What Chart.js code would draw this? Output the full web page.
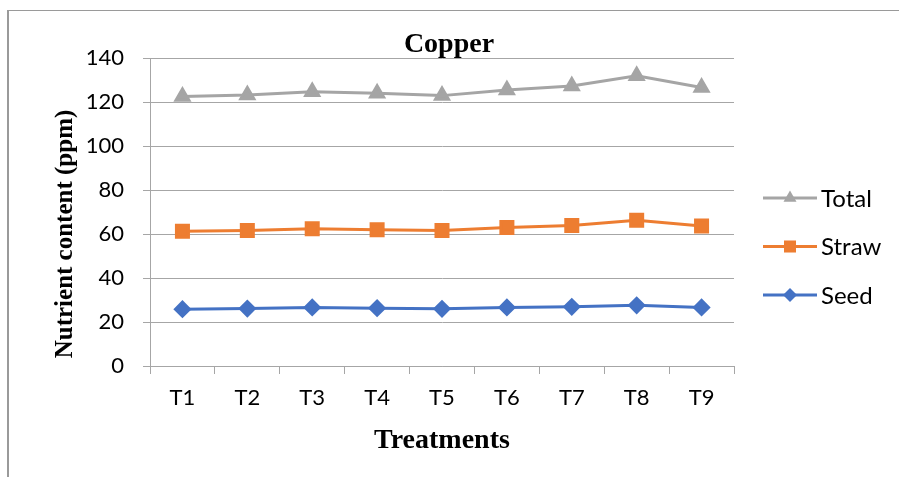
<!DOCTYPE html>
<html>
<head>
<meta charset="utf-8">
<script src="https://cdn.jsdelivr.net/npm/chart.js"></script>
<style>
  html, body { margin: 0; padding: 0; background: #fff; }
  #wrap { width: 899px; height: 477px; }
</style>
</head>
<body>
<div id="wrap"><canvas id="graficoCobre" width="899" height="477"></canvas></div>
<script>
// dados
const tratamentos = ['T1', 'T2', 'T3', 'T4', 'T5', 'T6', 'T7', 'T8', 'T9'];
const total = [122.5, 123.2, 124.7, 124.0, 122.9, 125.5, 127.3, 131.9, 126.6];
const palha = [61.3, 61.6, 62.4, 61.9, 61.6, 63.0, 63.9, 66.2, 63.6];
const semente = [25.8, 26.1, 26.6, 26.3, 26.0, 26.6, 26.9, 27.6, 26.6];
const ticksY = [0, 20, 40, 60, 80, 100, 120, 140];

const corTotal = '#A5A5A5';
const corPalha = '#ED7D31';
const corSemente = '#4472C4';
const corGrade = '#a6a6a6';
const fonteSans = 'Lato, "Liberation Sans", sans-serif';
const fonteSerif = '"Liberation Serif", "DejaVu Serif", serif';

// moldura, titulo, titulo do eixo Y e legenda desenhados a mao
const extras = {
    id: 'extras',
    beforeDraw(chart) {
        const ctx = chart.ctx;
        ctx.save();
        ctx.strokeStyle = '#9a9a9a';
        ctx.lineWidth = 1;
        ctx.beginPath();
        ctx.moveTo(7, 10.5);
        ctx.lineTo(899, 10.5);
        ctx.stroke();
        ctx.lineWidth = 2;
        ctx.beginPath();
        ctx.moveTo(8, 10);
        ctx.lineTo(8, 477);
        ctx.stroke();
        ctx.restore();
    },
    afterDraw(chart) {
        const ctx = chart.ctx;
        const area = chart.chartArea;
        ctx.save();
        ctx.fillStyle = '#000';
        ctx.textAlign = 'center';
        ctx.textBaseline = 'middle';
        ctx.font = 'bold 28px ' + fonteSerif;
        ctx.fillText('Copper', 449, 45);

        ctx.translate(66, 234);
        ctx.rotate(-Math.PI / 2);
        ctx.font = 'bold 25px ' + fonteSerif;
        ctx.fillText('Nutrient content (ppm)', 0, 0);
        ctx.restore();

        // legenda vertical à direita
        ctx.save();
        const x0 = area.right + 29;
        chart.data.datasets.forEach((ds, i) => {
            const y = 198 + i * 48.5;
            ctx.strokeStyle = ds.borderColor;
            ctx.lineWidth = 3;
            ctx.beginPath();
            ctx.moveTo(x0, y);
            ctx.lineTo(x0 + 54, y);
            ctx.stroke();
            ctx.fillStyle = ds.backgroundColor;
            Chart.helpers.drawPoint(ctx, {
                pointStyle: ds.pointStyle,
                radius: ds.pointRadius,
                rotation: 0,
                borderWidth: 0
            }, x0 + 27, y);
            ctx.fillStyle = '#000';
            ctx.font = '24px ' + fonteSans;
            ctx.textAlign = 'left';
            ctx.textBaseline = 'middle';
            ctx.fillText(ds.label, x0 + 58, y + 1);
        });
        ctx.restore();
    }
};

const ctx = document.getElementById('graficoCobre').getContext('2d');

const grafico = new Chart(ctx, {
    type: 'line',
    data: {
        labels: tratamentos,
        datasets: [
            {
                label: 'Total',
                data: total,
                borderColor: corTotal,
                backgroundColor: corTotal,
                pointStyle: 'triangle',
                pointRadius: 7.5,
                borderWidth: 3,
                tension: 0
            },
            {
                label: 'Straw',
                data: palha,
                borderColor: corPalha,
                backgroundColor: corPalha,
                pointStyle: 'rect',
                pointRadius: 8.5,
                borderWidth: 3,
                tension: 0
            },
            {
                label: 'Seed',
                data: semente,
                borderColor: corSemente,
                backgroundColor: corSemente,
                pointStyle: 'rectRot',
                pointRadius: 7,
                borderWidth: 3,
                tension: 0
            }
        ]
    },
    options: {
        responsive: false,
        animation: false,
        layout: {
            padding: { top: 58, right: 165, bottom: 0, left: 0 }
        },
        elements: {
            point: { borderWidth: 0, hoverRadius: 8 }
        },
        scales: {
            x: {
                offset: true,
                grid: {
                    offset: true,
                    drawOnChartArea: false,
                    drawTicks: true,
                    tickLength: 8,
                    color: corGrade
                },
                border: { color: corGrade, width: 1 },
                ticks: {
                    color: '#000',
                    font: { family: fonteSans, size: 22 },
                    padding: 11
                },
                title: {
                    display: true,
                    text: 'Treatments',
                    color: '#000',
                    font: { family: fonteSerif, size: 28, weight: 'bold' },
                    padding: { top: 0, bottom: 19 }
                },
                afterFit: (escala) => { escala.height = 111; }
            },
            y: {
                min: 0,
                max: 140,
                afterBuildTicks: (escala) => {
                    escala.ticks = ticksY.map(v => ({ value: v }));
                },
                grid: {
                    color: corGrade,
                    tickLength: 7,
                    lineWidth: 1
                },
                border: { color: corGrade, width: 1 },
                ticks: {
                    color: '#000',
                    font: { family: fonteSans, size: 22 },
                    padding: 19
                },
                afterFit: (escala) => { escala.width = 150; }
            }
        },
        plugins: {
            legend: { display: false },
            title: { display: false },
            tooltip: { enabled: false }
        }
    },
    plugins: [extras]
});
</script>
</body>
</html>
